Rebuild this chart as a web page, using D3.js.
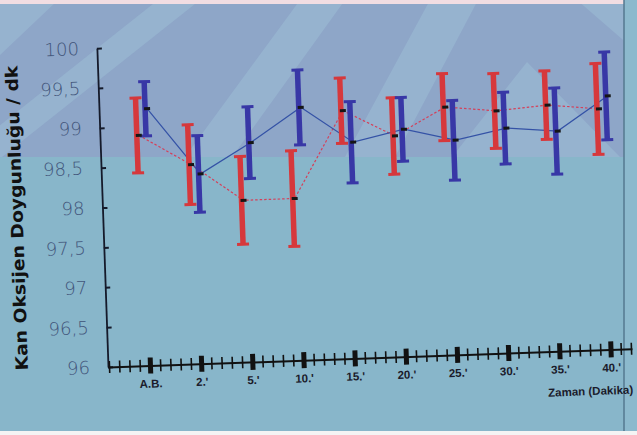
<!DOCTYPE html>
<html>
<head>
<meta charset="utf-8">
<script src="https://cdn.jsdelivr.net/npm/d3@7"></script>
<style>
  html, body { margin: 0; padding: 0; background: #88b6ca; }
  svg { display: block; }
</style>
</head>
<body>
<script>
const WIDTH = 637;
const HEIGHT = 435;
const TILT = -2; // the slide was photographed slightly rotated
const PIVOT = [108, 367];

// ---------- data ----------

const categories = ['A.B.', "2.'", "5.'", "10.'", "15.'", "20.'", "25.'", "30.'", "35.'", "40.'"];
const redMean = [98.89, 98.5, 98.03, 98.03, 99.11, 98.77, 99.11, 99.04, 99.09, 99.02];
const redErr = [0.47, 0.5, 0.55, 0.6, 0.41, 0.48, 0.42, 0.47, 0.43, 0.57];
const blueMean = [99.22, 98.38, 98.75, 99.17, 98.71, 98.85, 98.69, 98.82, 98.76, 99.18];
const blueErr = [0.34, 0.48, 0.45, 0.47, 0.51, 0.4, 0.5, 0.45, 0.54, 0.55];
const yTicks = [96, 96.5, 97, 97.5, 98, 98.5, 99, 99.5, 100];
const minorTicks = d3.range(-4, 48).map((i) => i / 5).filter((v) => v % 1 !== 0);

const series = [
  { name: 'red', mean: redMean, err: redErr, offset: -0.1, color: '#d6383c', line: '#d4405a', dash: '2.5,2' },
  { name: 'blue', mean: blueMean, err: blueErr, offset: 0.08, color: '#3837a6', line: '#3452a6', dash: null },
];

// ---------- scales ----------

const x = d3.scaleLinear().domain([-0.82, 9.42]).range([108, 632.3]);
const y = d3.scaleLinear().domain([96, 100]).range([367, 48]);

const svg = d3.select('body').append('svg').attr('width', WIDTH).attr('height', HEIGHT);

// ---------- slide background ----------

const bg = svg.append('g');
bg.append('rect').attr('width', WIDTH).attr('height', HEIGHT).attr('fill', '#88b6ca');
bg.append('rect').attr('width', WIDTH).attr('height', 157).attr('fill', '#8ea6c8');

svg.append('clipPath').attr('id', 'upper')
  .append('rect').attr('width', WIDTH).attr('height', 157);

const bands = [
  [[0, 0], [58, 0], [0, 55]],
  [[-40, 157], [2, 157], [200, 0], [158, 0]],
  [[185, 157], [232, 157], [345, 0], [300, 0]],
  [[345, 157], [395, 157], [478, 0], [430, 0]],
  [[452, 157], [527, 62], [620, 157]],
  [[577, 0], [637, 0], [637, 52]],
];
bg.append('g').attr('clip-path', 'url(#upper)')
  .selectAll('polygon').data(bands).join('polygon')
  .attr('points', (d) => d.join(' '))
  .attr('fill', '#9cbdd6')
  .attr('opacity', 0.55);

bg.append('rect').attr('width', WIDTH).attr('height', 4).attr('fill', '#f1dde2');
bg.append('rect').attr('x', 624).attr('width', 13).attr('height', HEIGHT).attr('fill', '#8cb9cd');
bg.append('line').attr('x1', 624).attr('x2', 624).attr('y1', 0).attr('y2', HEIGHT)
  .attr('stroke', '#55788f').attr('stroke-width', 1.5);
bg.append('rect').attr('y', 431).attr('width', WIDTH).attr('height', 4).attr('fill', '#f4f4f4');

// ---------- chart ----------

const chart = svg.append('g').attr('transform', `rotate(${TILT}, ${PIVOT[0]}, ${PIVOT[1]})`);

// y axis
const yAxis = chart.append('g')
  .attr('transform', `translate(${x.range()[0]},0)`)
  .call(d3.axisLeft(y).tickValues(yTicks).tickSize(5).tickSizeOuter(0).tickPadding(13)
    .tickFormat((d) => String(d).replace('.', ',')));
yAxis.select('.domain').attr('stroke', '#151a2a').attr('stroke-width', 1.8);
yAxis.selectAll('.tick line').attr('x2', 5).attr('stroke', '#151a2a').attr('stroke-width', 2);
yAxis.selectAll('.tick text')
  .attr('font-family', 'DejaVu Sans, Verdana, sans-serif')
  .attr('font-weight', 300)
  .attr('font-size', 18)
  .attr('fill', '#42557a');

// x axis: minor ticks
const xMinor = chart.append('g')
  .attr('transform', `translate(0,${y(96)})`)
  .call(d3.axisBottom(x).tickValues(minorTicks).tickSize(6).tickSizeOuter(0).tickFormat(''));
xMinor.select('.domain').attr('stroke', '#111').attr('stroke-width', 2);
xMinor.selectAll('.tick line').attr('y1', -6).attr('stroke', '#111').attr('stroke-width', 1.6);

// x axis: major ticks
const xMajor = chart.append('g')
  .attr('transform', `translate(0,${y(96)})`)
  .call(d3.axisBottom(x).tickValues(d3.range(categories.length)).tickSize(8).tickPadding(6)
    .tickFormat((i) => categories[i]));
xMajor.select('.domain').remove();
xMajor.selectAll('.tick line').attr('y1', -8).attr('stroke', '#111').attr('stroke-width', 5);
xMajor.selectAll('.tick text')
  .attr('font-family', 'Liberation Sans, Arial, sans-serif')
  .attr('font-weight', 'bold')
  .attr('font-size', 11.5)
  .attr('fill', '#1b1b2b');

chart.append('text')
  .attr('x', 632)
  .attr('y', y(96) + 45)
  .attr('text-anchor', 'end')
  .attr('font-family', 'Liberation Sans, Arial, sans-serif')
  .attr('font-weight', 'bold')
  .attr('font-size', 11.5)
  .attr('fill', '#1b1b2b')
  .text('Zaman (Dakika)');

chart.append('text')
  .attr('transform', 'translate(28,215) rotate(-90)')
  .attr('text-anchor', 'middle')
  .attr('font-family', 'DejaVu Sans, Verdana, sans-serif')
  .attr('font-weight', 'bold')
  .attr('font-size', 17)
  .attr('textLength', 305)
  .attr('lengthAdjust', 'spacingAndGlyphs')
  .attr('fill', '#111')
  .text('Kan Oksijen Doygunluğu / dk');

// ---------- connecting lines ----------

const markX = (s, i) => x(i + s.offset) + 2;

series.forEach((s) => {
  const line = d3.line()
    .x((d, i) => markX(s, i))
    .y((d) => y(d));
  chart.append('path')
    .datum(s.mean)
    .attr('d', line)
    .attr('fill', 'none')
    .attr('stroke', s.line)
    .attr('stroke-width', 1.2)
    .attr('stroke-dasharray', s.dash);
});

// ---------- error bars ----------

series.forEach((s) => {
  const g = chart.append('g').attr('class', `bars-${s.name}`);
  const bars = g.selectAll('g').data(s.mean).join('g')
    .attr('transform', (d, i) => `translate(${x(i + s.offset)},0)`);

  bars.append('line')
    .attr('y1', (d, i) => y(d + s.err[i]))
    .attr('y2', (d, i) => y(d - s.err[i]))
    .attr('stroke', s.color)
    .attr('stroke-width', 5.5);

  bars.selectAll('.cap')
    .data((d, i) => [d + s.err[i], d - s.err[i]])
    .join('line')
    .attr('class', 'cap')
    .attr('x1', -6).attr('x2', 6)
    .attr('y1', (v) => y(v)).attr('y2', (v) => y(v))
    .attr('stroke', s.color)
    .attr('stroke-width', 3);
});

// ---------- mean markers ----------

series.forEach((s) => {
  chart.append('g').selectAll('rect').data(s.mean).join('rect')
    .attr('x', (d, i) => markX(s, i) - 3)
    .attr('y', (d) => y(d) - 1.5)
    .attr('width', 6)
    .attr('height', 3)
    .attr('fill', '#161616');
});
</script>
</body>
</html>
